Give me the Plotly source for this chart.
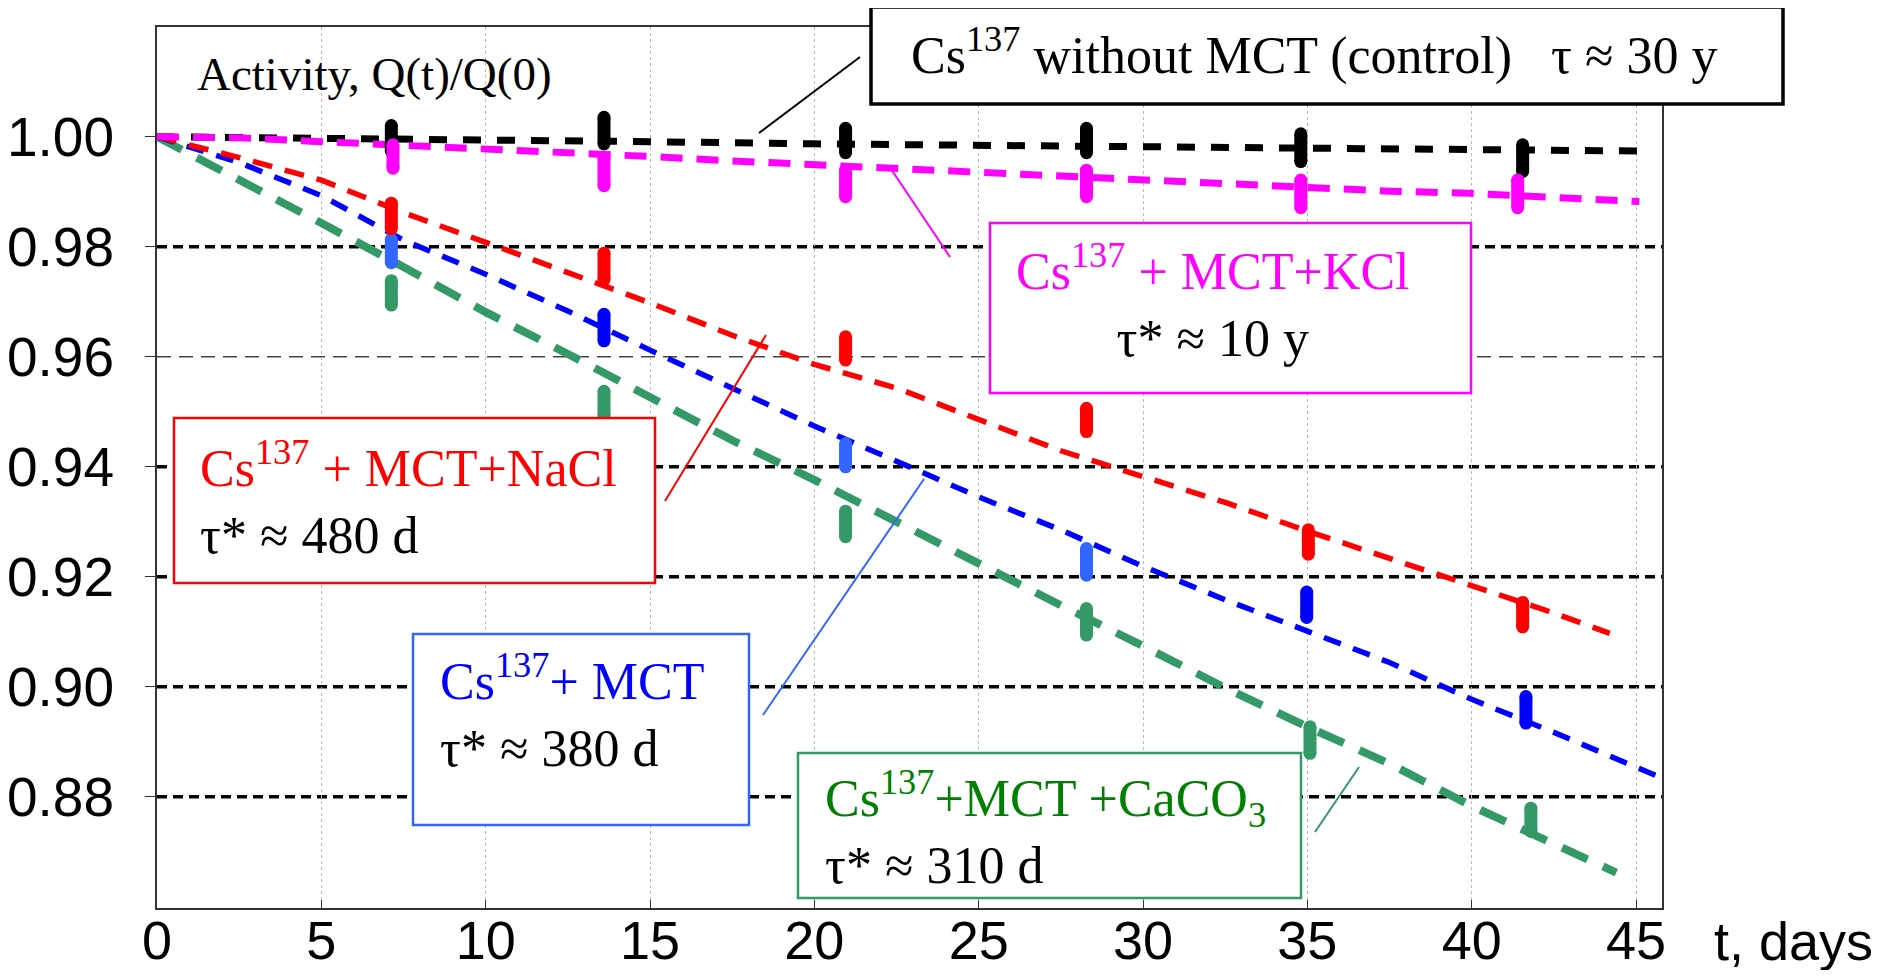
import plotly.graph_objects as go

# fitted curves (dashed)
black_fit_t = [0, 5, 10, 15, 20, 25, 30, 35, 40, 45.1]
black_fit_q = [1.0, 0.9998, 0.9995, 0.9991, 0.9987, 0.9984, 0.9982, 0.9978, 0.9974, 0.9974]

kcl_fit_t = [0, 2.5, 5, 7.5, 10, 12.5, 15, 17.5, 20, 22.5, 25, 27.5, 30, 32.5, 35, 37.5, 40, 42.5, 45.1]
kcl_fit_q = [1.0, 0.9998, 0.9991, 0.9985, 0.9979, 0.9972, 0.9964, 0.9956, 0.9949, 0.9942, 0.9936,
             0.9930, 0.9923, 0.9914, 0.9906, 0.9901, 0.9897, 0.9890, 0.9882]

nacl_fit_t = [0, 2.5, 5, 7.5, 10, 12.5, 15, 17.5, 20, 22.5, 25, 27.5, 30, 32.5, 35, 37.5, 40, 42.5, 44.2]
nacl_fit_q = [1.0, 0.9962, 0.9921, 0.9862, 0.9808, 0.9752, 0.9698, 0.9639, 0.9586, 0.9543, 0.9487,
              0.9429, 0.9382, 0.9335, 0.9283, 0.9234, 0.9184, 0.9134, 0.9097]

mct_fit_t = [0, 2.5, 5, 7.5, 10, 12.5, 15, 17.5, 20, 22.5, 25, 27.5, 30, 32.5, 35, 37.5, 40, 42.5, 45.7]
mct_fit_q = [1.0, 0.9953, 0.9893, 0.9812, 0.9750, 0.9683, 0.9612, 0.9544, 0.9474, 0.9410, 0.9345,
             0.9285, 0.9219, 0.9158, 0.9100, 0.9044, 0.8977, 0.8917, 0.8836]

caco3_fit_t = [0, 2.5, 5, 7.5, 10, 12.5, 15, 17.5, 20, 22.5, 25, 27.5, 30, 32.5, 35, 37.5, 40, 42.5, 44.4]
caco3_fit_q = [1.0, 0.9923, 0.9843, 0.9763, 0.9681, 0.9605, 0.9527, 0.9448, 0.9376, 0.9299, 0.9223,
               0.9148, 0.9074, 0.8998, 0.8927, 0.8860, 0.8783, 0.8713, 0.8662]

# measured points with their spread
black_t = [7.13, 13.6, 20.95, 28.28, 34.8, 41.55]
black_q = [0.9997, 1.0011, 0.9993, 0.9993, 0.9980, 0.9961]
black_e = [0.0035, 0.0036, 0.0034, 0.0034, 0.0037, 0.0036]

kcl_t = [7.18, 13.6, 20.95, 28.28, 34.8, 41.4]
kcl_q = [0.9964, 0.9936, 0.9915, 0.9915, 0.9896, 0.9896]
kcl_e = [0.0033, 0.0037, 0.0036, 0.0036, 0.0037, 0.0037]

nacl_t = [7.13, 13.6, 20.95, 28.28, 35.03, 41.55]
nacl_q = [0.9856, 0.9764, 0.9615, 0.9485, 0.9263, 0.9131]
nacl_e = [0.0035, 0.0036, 0.0033, 0.0033, 0.0034, 0.0034]

mct_t = [7.13, 13.6, 20.95, 28.28, 34.98, 41.65]
mct_q = [0.9792, 0.9653, 0.9421, 0.9227, 0.9149, 0.8958]
mct_e = [0.0033, 0.0036, 0.0033, 0.0036, 0.0035, 0.0036]
mct_light = [True, False, True, True, False, False]

caco3_t = [7.13, 13.6, 20.95, 28.28, 35.08, 41.8]
caco3_q = [0.9716, 0.9515, 0.9296, 0.9118, 0.8903, 0.8758]
caco3_e = [0.0034, 0.0034, 0.0035, 0.0036, 0.0036, 0.0033]

x_ticks = [0, 5, 10, 15, 20, 25, 30, 35, 40, 45]
y_ticks = [0.88, 0.90, 0.92, 0.94, 0.96, 0.98, 1.00]

GREEN = "#339966"
LBLUE = "#3366ff"

# the page body adds an 8px margin, so the figure is drawn 8px in from the window edge
OFF = 8
FIG_W, FIG_H = 1894 - 2 * OFF, 978 - 2 * OFF
# plot area in window pixels
L, R, T, B = 157, 1662, 27, 908
Y_RANGE = [0.85976, 1.01995]

BAR_W = 13
# half of the bar width in data units, so the rounded ends stay inside the spread
CAP = (BAR_W / 2) * (Y_RANGE[1] - Y_RANGE[0]) / (B - T)


def fx(px):
    return (px - L) / (R - L)


def fy(py):
    return (B - py) / (B - T)


fig = go.Figure()

fits = [
    (caco3_fit_t, caco3_fit_q, GREEN, 8, "28px,17px"),
    (mct_fit_t, mct_fit_q, "#0000ff", 5.5, "18px,13px"),
    (nacl_fit_t, nacl_fit_q, "#ff0000", 5.5, "20px,13px"),
    (black_fit_t, black_fit_q, "#000000", 7, "18px,16px"),
    (kcl_fit_t, kcl_fit_q, "#ff00ff", 7, "22px,14px"),
]
for t, q, col, w, dash in fits:
    fig.add_trace(go.Scatter(x=t, y=q, mode="lines",
                             line=dict(color=col, width=w, dash=dash),
                             hoverinfo="skip"))


def add_bars(t, q, e, col):
    inner = [max(v - CAP, 0) for v in e]
    fig.add_trace(go.Scatter(
        x=t, y=q, mode="markers",
        marker=dict(size=1, color=col, opacity=0),
        error_y=dict(type="data", array=inner, color=col, thickness=BAR_W, width=0),
        hoverinfo="skip"))
    # round ends
    fig.add_trace(go.Scatter(
        x=t + t,
        y=[a + b for a, b in zip(q, inner)] + [a - b for a, b in zip(q, inner)],
        mode="markers",
        marker=dict(size=BAR_W, color=col, line=dict(width=0)),
        hoverinfo="skip"))


def pick(vals, flags, want):
    return [v for v, f in zip(vals, flags) if f == want]


add_bars(caco3_t, caco3_q, caco3_e, GREEN)
add_bars(pick(mct_t, mct_light, True), pick(mct_q, mct_light, True),
         pick(mct_e, mct_light, True), LBLUE)
add_bars(pick(mct_t, mct_light, False), pick(mct_q, mct_light, False),
         pick(mct_e, mct_light, False), "#0000ff")
add_bars(nacl_t, nacl_q, nacl_e, "#ff0000")
add_bars(black_t, black_q, black_e, "#000000")
add_bars(kcl_t, kcl_q, kcl_e, "#ff00ff")

shapes = []
# horizontal grid
for v in y_ticks:
    if v == 1.00:
        continue
    if v == 0.96:
        style = dict(color="#444444", width=1.5, dash="14px,8px")
    else:
        style = dict(color="#000000", width=3.5, dash="10px,6px")
    shapes.append(dict(type="line", xref="paper", yref="y", x0=0, x1=1, y0=v, y1=v,
                       line=style, layer="below"))

# boxes: (left, top, right, bottom) in window px, border colour
boxes = [
    (871, 7, 1783, 104, "#000000", 3.5),
    (990, 223, 1471, 393, "#ff00ff", 2.5),
    (174, 418, 655, 583, "#ff0000", 2.5),
    (413, 634, 749, 825, LBLUE, 2.5),
    (798, 753, 1301, 898, GREEN, 2.5),
]
for x0, y0, x1, y1, col, w in boxes:
    shapes.append(dict(type="rect", xref="paper", yref="paper",
                       x0=fx(x0), x1=fx(x1), y0=fy(y1), y1=fy(y0),
                       line=dict(color=col, width=w), fillcolor="white", layer="above"))

# leader lines
leaders = [
    (759, 133, 860, 57, "#000000"),
    (891, 169, 950, 257, "#ff00ff"),
    (665, 501, 766, 335, "#ff0000"),
    (763, 715, 924, 479, LBLUE),
    (1315, 832, 1359, 767, GREEN),
]
for x0, y0, x1, y1, col in leaders:
    shapes.append(dict(type="line", xref="paper", yref="paper",
                       x0=fx(x0), x1=fx(x1), y0=fy(y0), y1=fy(y1),
                       line=dict(color=col, width=2), layer="above"))

SERIF = "Liberation Serif, Times New Roman, serif"
SANS = "Liberation Sans, Arial, sans-serif"
BLK = "<span style='color:black'>"

annotations = [
    dict(text="Activity, Q(t)/Q(0)", x=fx(195), y=fy(46), xanchor="left", yanchor="top",
         font=dict(family=SERIF, size=47, color="black")),
    dict(text="Cs<sup>137</sup> without MCT (control)\u00a0\u00a0 τ ≈ 30 y",
         x=fx(909), y=fy(17), xanchor="left", yanchor="top",
         font=dict(family=SERIF, size=52, color="black")),
    dict(text="Cs<sup>137</sup> + MCT+KCl<br>" + BLK + "τ* ≈ 10 y</span>",
         x=fx(1213), y=fy(233), xanchor="center", yanchor="top", align="center",
         font=dict(family=SERIF, size=52, color="#ff00ff")),
    dict(text="Cs<sup>137</sup> + MCT+NaCl<br>" + BLK + "τ* ≈ 480 d</span>",
         x=fx(198), y=fy(430), xanchor="left", yanchor="top", align="left",
         font=dict(family=SERIF, size=52, color="#ff0000")),
    dict(text="Cs<sup>137</sup>+ MCT<br>" + BLK + "τ* ≈ 380 d</span>",
         x=fx(438), y=fy(643), xanchor="left", yanchor="top", align="left",
         font=dict(family=SERIF, size=52, color="#0000ff")),
    dict(text="Cs<sup>137</sup>+MCT +CaCO<sub>3</sub><br>" + BLK + "τ* ≈ 310 d</span>",
         x=fx(823), y=fy(760), xanchor="left", yanchor="top", align="left",
         font=dict(family=SERIF, size=52, color="#008000")),
    dict(text="t, days", x=fx(1712), y=fy(909), xanchor="left", yanchor="top",
         font=dict(family=SANS, size=54, color="black")),
]
for a in annotations:
    a.update(xref="paper", yref="paper", showarrow=False)

fig.update_layout(
    width=FIG_W, height=FIG_H,
    autosize=False,
    margin=dict(l=L - OFF, r=FIG_W - (R - OFF), t=T - OFF, b=FIG_H - (B - OFF), autoexpand=False),
    paper_bgcolor="white", plot_bgcolor="white",
    showlegend=False,
    shapes=shapes,
    annotations=annotations,
    font=dict(family=SANS, color="black"),
)
fig.update_xaxes(
    range=[0, 45.79], tickvals=x_ticks, ticktext=[str(v) for v in x_ticks],
    showgrid=True, gridcolor="#bbbbbb", gridwidth=1.2, griddash="dot",
    showline=True, linecolor="#333333", linewidth=2, mirror=True,
    ticks="inside", ticklen=8, tickcolor="#333333",
    ticklabelstandoff=-16,
    tickfont=dict(family=SANS, size=54, color="black"),
    zeroline=False,
)
fig.update_yaxes(
    range=Y_RANGE, tickvals=y_ticks, ticktext=[f"{v:.2f}" for v in y_ticks],
    showgrid=False,
    showline=True, linecolor="#333333", linewidth=2, mirror=True,
    ticks="outside", ticklen=10, tickcolor="#333333",
    ticklabelstandoff=20,
    tickfont=dict(family=SANS, size=55, color="black"),
    zeroline=False,
)

fig.write_html("out.html")
